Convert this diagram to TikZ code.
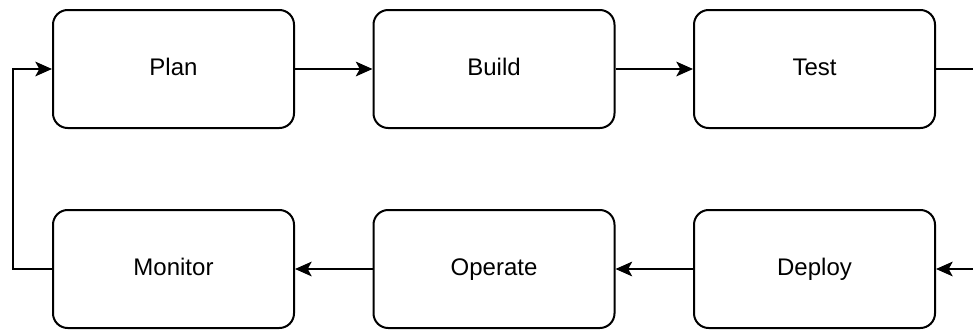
\documentclass[tikz,border=0pt]{standalone}
\usepackage{fontspec}
\setmainfont{Liberation Sans}
\usetikzlibrary{arrows.meta, positioning}

\begin{document}
\begin{tikzpicture}[
    x=0.75pt, y=-0.75pt,
    font=\fontsize{18pt}{21pt}\selectfont,
    phase/.style={draw, line width=1.5pt, rounded corners=11pt,
                  minimum width=180.75pt, minimum height=88.5pt, align=center,
                  text height=12.5pt, text depth=3.5pt},
    flow/.style={-{Stealth[length=12.5pt, width=11pt, inset=3pt]}, line width=1.5pt}
  ]
    \useasboundingbox (0,0) rectangle (973,329);

    % top row
    \node[phase] (plan)  at (173.5,69) {Plan};
    \node[phase] (build) at (494,69)   {Build};
    \node[phase] (test)  at (814.5,69) {Test};
    % bottom row
    \node[phase] (monitor) at (173.5,269) {Monitor};
    \node[phase] (operate) at (494,269)   {Operate};
    \node[phase] (deploy)  at (814.5,269) {Deploy};

    % loose ends at the right border
    \coordinate (testout)  at (975,69);
    \coordinate (deployin) at (975,269);

    \draw[flow] (plan) -- (build);
    \draw[flow] (build) -- (test);
    \draw[line width=1.5pt] (test.east) -- (testout);
    \draw[flow] (deployin) -- (deploy.east);
    \draw[flow] (deploy) -- (operate);
    \draw[flow] (operate) -- (monitor);
    \draw[flow] (monitor.west) -- ++(-39,0) |- (plan.west);
  \end{tikzpicture}
\end{document}
